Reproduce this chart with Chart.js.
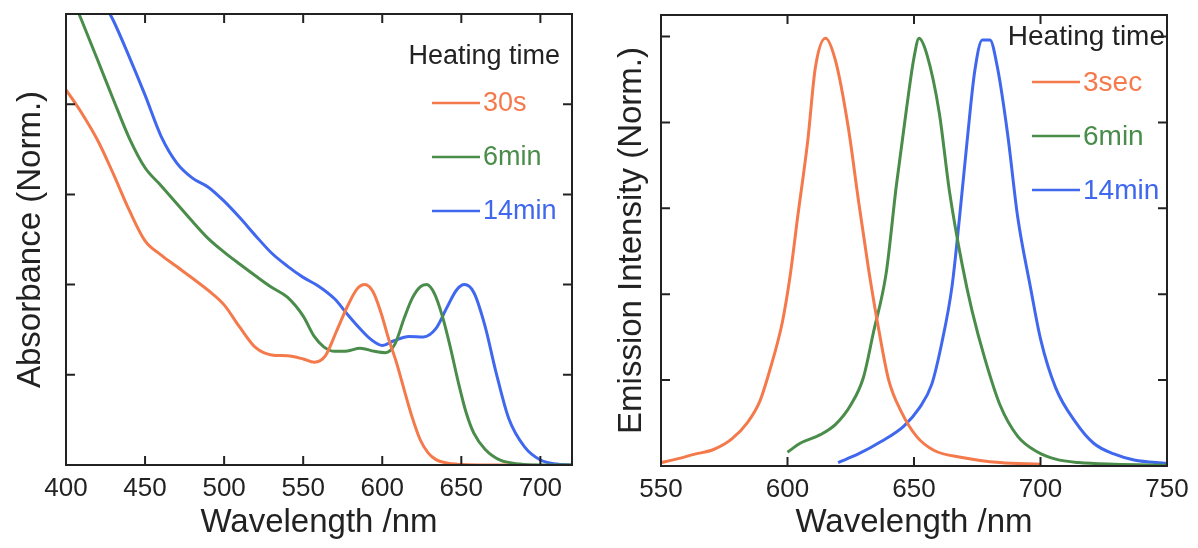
<!DOCTYPE html>
<html>
<head>
<meta charset="utf-8">
<script src="https://cdn.jsdelivr.net/npm/chart.js@4"></script>
<style>
  html, body { margin: 0; padding: 0; background: #fff; }
  .panel { position: absolute; top: 0; width: 599px; height: 548px; }
  #absPanel { left: 0; }
  #emPanel { left: 599px; }
</style>
</head>
<body>
<div class="panel" id="absPanel"><canvas id="absChart" width="599" height="548"></canvas></div>
<div class="panel" id="emPanel"><canvas id="emChart" width="599" height="548"></canvas></div>
<script>
// absorbance spectra (normalised)
const absWl30s = [400, 410, 420, 430, 440, 450, 460, 470, 480, 490, 500, 510, 520, 530, 540, 550, 557, 564, 571, 578, 584, 589, 594, 599, 604, 609, 614, 619, 624, 629, 634, 640, 650, 660, 680];
const abs30s = [0.832, 0.78, 0.72, 0.645, 0.565, 0.497, 0.466, 0.44, 0.414, 0.387, 0.355, 0.305, 0.26, 0.244, 0.242, 0.235, 0.228, 0.242, 0.296, 0.352, 0.39, 0.4, 0.385, 0.34, 0.28, 0.227, 0.165, 0.105, 0.056, 0.027, 0.012, 0.005, 0.001, 0, 0];

const absWl6min = [400, 410, 420, 430, 440, 450, 460, 470, 480, 490, 500, 510, 520, 530, 540, 550, 557, 563, 570, 578, 586, 595, 602, 608, 614, 619, 624, 628, 633, 638, 643, 648, 653, 658, 665, 675, 687, 700, 720];
const abs6min = [1.07, 0.985, 0.898, 0.81, 0.725, 0.659, 0.62, 0.58, 0.54, 0.502, 0.472, 0.445, 0.419, 0.394, 0.372, 0.33, 0.285, 0.262, 0.252, 0.253, 0.259, 0.252, 0.249, 0.268, 0.327, 0.37, 0.395, 0.4, 0.38, 0.33, 0.262, 0.185, 0.117, 0.07, 0.035, 0.01, 0.002, 0, 0];

const absWl14min = [400, 410, 420, 430, 440, 450, 460, 470, 480, 490, 500, 510, 520, 530, 540, 550, 560, 570, 578, 586, 593, 600, 607, 617, 626, 634, 641, 647, 652, 658, 665, 672, 680, 690, 700, 710, 720];
const abs14min = [1.2, 1.13, 1.05, 0.985, 0.905, 0.82, 0.73, 0.67, 0.636, 0.616, 0.585, 0.548, 0.508, 0.47, 0.441, 0.416, 0.396, 0.368, 0.334, 0.302, 0.278, 0.265, 0.275, 0.285, 0.284, 0.303, 0.35, 0.388, 0.4, 0.382, 0.308, 0.205, 0.103, 0.04, 0.011, 0.002, 0];

// emission spectra (normalised)
const emWl3sec = [550, 556, 563, 571, 578, 584, 589, 593, 598, 601, 604, 608, 611, 615, 619, 624, 628, 632, 636, 640, 645, 651, 658, 669, 684, 700];
const em3sec = [0.008, 0.016, 0.027, 0.039, 0.063, 0.1, 0.15, 0.223, 0.336, 0.441, 0.579, 0.757, 0.927, 0.996, 0.943, 0.789, 0.62, 0.46, 0.32, 0.2, 0.126, 0.069, 0.036, 0.02, 0.008, 0.004];

const emWl6min = [600, 605, 613, 619, 625, 630, 634, 639, 643, 647, 650, 652, 655, 660, 664, 669, 673, 678, 684, 691, 699, 706, 715, 729, 750];
const em6min = [0.032, 0.053, 0.073, 0.097, 0.142, 0.206, 0.312, 0.449, 0.652, 0.83, 0.951, 0.996, 0.96, 0.822, 0.64, 0.47, 0.36, 0.25, 0.142, 0.069, 0.032, 0.016, 0.008, 0.004, 0.002];

const emWl14min = [620, 628, 637, 646, 652, 657, 661, 665, 668, 671, 674, 677, 680, 683, 687, 691, 696, 700, 706, 714, 721, 729, 737, 750];
const em14min = [0.008, 0.028, 0.057, 0.093, 0.134, 0.19, 0.287, 0.417, 0.579, 0.757, 0.919, 0.992, 0.992, 0.927, 0.773, 0.579, 0.417, 0.296, 0.182, 0.101, 0.053, 0.028, 0.014, 0.006];

// axis ticks
const absXTicks = [400, 450, 500, 550, 600, 650, 700];
const absYTicks = [0.2, 0.4, 0.6, 0.8];
const emXTicks = [550, 600, 650, 700, 750];
const emYTicks = [0.2, 0.4, 0.6, 0.8, 1.0];

const absLabels = ["30s", "6min", "14min"];
const emLabels = ["3sec", "6min", "14min"];

const ORANGE = "#f4794b";
const GREEN = "#4a8c4a";
const BLUE = "#3f68ee";
const FONT = "'Liberation Sans', Arial, sans-serif";

function toPoints(xs, ys) {
  return xs.map((x, i) => ({ x: x, y: ys[i] }));
}

function series(label, xs, ys, color) {
  return {
    label: label,
    data: toPoints(xs, ys),
    borderColor: color,
    backgroundColor: color,
    borderWidth: 3,
    pointRadius: 0,
    cubicInterpolationMode: "monotone",
    fill: false,
  };
}

// frame box plus inward tick marks on all four sides
const frameTicks = {
  id: "frameTicks",
  afterDraw(chart) {
    const { ctx, chartArea: a, scales } = chart;
    const len = 9;
    ctx.save();
    ctx.strokeStyle = "#222";
    ctx.lineWidth = 2;
    ctx.beginPath();
    scales.x.ticks.forEach((t) => {
      const px = scales.x.getPixelForValue(t.value);
      if (px <= a.left + 1 || px >= a.right - 1) return;
      ctx.moveTo(px, a.bottom);
      ctx.lineTo(px, a.bottom - len);
      ctx.moveTo(px, a.top);
      ctx.lineTo(px, a.top + len);
    });
    chart.options.plugins.frameTicks.yTicks.forEach((v) => {
      const py = scales.y.getPixelForValue(v);
      ctx.moveTo(a.left, py);
      ctx.lineTo(a.left + len, py);
      ctx.moveTo(a.right, py);
      ctx.lineTo(a.right - len, py);
    });
    ctx.stroke();
    ctx.strokeRect(a.left, a.top, a.right - a.left, a.bottom - a.top);
    ctx.restore();
  },
};

// "Heating time" key in the upper right corner of the plot
const heatLegend = {
  id: "heatLegend",
  afterDraw(chart) {
    const o = chart.options.plugins.heatLegend;
    const { ctx, chartArea: a } = chart;
    ctx.save();
    ctx.font = o.size + "px " + FONT;
    ctx.textBaseline = "middle";
    ctx.fillStyle = "#222";
    ctx.textAlign = "right";
    ctx.fillText("Heating time", a.right - o.titleInset, a.top + o.titleY);
    ctx.textAlign = "left";
    chart.data.datasets.forEach((ds, i) => {
      const y = a.top + o.firstRow + i * o.gap;
      const x0 = a.right - o.lineFromRight;
      ctx.strokeStyle = ds.borderColor;
      ctx.lineWidth = 2.6;
      ctx.beginPath();
      ctx.moveTo(x0, y);
      ctx.lineTo(x0 + 48, y);
      ctx.stroke();
      ctx.fillStyle = ds.borderColor;
      ctx.fillText(ds.label, x0 + 51, y + 1);
    });
    ctx.restore();
  },
};

function makeChart(id, cfg) {
  return new Chart(document.getElementById(id).getContext("2d"), {
    type: "line",
    data: { datasets: cfg.datasets },
    options: {
      responsive: false,
      animation: false,
      layout: { padding: cfg.padding },
      plugins: {
        legend: { display: false },
        tooltip: { enabled: false },
        frameTicks: { yTicks: cfg.yTicks },
        heatLegend: cfg.legend,
      },
      scales: {
        x: {
          type: "linear",
          min: cfg.xMin,
          max: cfg.xMax,
          afterBuildTicks: (s) => {
            s.ticks = cfg.xTicks.map((v) => ({ value: v }));
          },
          afterFit: (s) => {
            s.height = cfg.xHeight;
          },
          grid: { display: false, drawTicks: false },
          border: { display: false },
          ticks: {
            color: "#222",
            padding: 8,
            maxRotation: 0,
            font: { family: FONT, size: 26 },
          },
          title: {
            display: true,
            text: "Wavelength /nm",
            color: "#222",
            padding: { bottom: 5 },
            font: { family: FONT, size: 33 },
          },
        },
        y: {
          min: 0,
          max: cfg.yMax,
          afterFit: (s) => {
            s.width = cfg.yWidth;
          },
          grid: { display: false, drawTicks: false },
          border: { display: false },
          ticks: { display: false },
          title: {
            display: true,
            text: cfg.yTitle,
            color: "#222",
            padding: { top: cfg.yTitlePad },
            font: { family: FONT, size: 33 },
          },
        },
      },
    },
    plugins: [frameTicks, heatLegend],
  });
}

makeChart("absChart", {
  datasets: [
    series(absLabels[0], absWl30s, abs30s, ORANGE),
    series(absLabels[1], absWl6min, abs6min, GREEN),
    series(absLabels[2], absWl14min, abs14min, BLUE),
  ],
  xMin: 400,
  xMax: 720,
  yMax: 1.0,
  xTicks: absXTicks,
  yTicks: absYTicks,
  yTitle: "Absorbance (Norm.)",
  yTitlePad: 11,
  padding: { left: 0, right: 27, top: 14, bottom: 0 },
  xHeight: 83,
  yWidth: 66,
  legend: { size: 27, titleInset: 12, titleY: 43, firstRow: 89, gap: 54, lineFromRight: 140 },
});

makeChart("emChart", {
  datasets: [
    series(emLabels[0], emWl3sec, em3sec, ORANGE),
    series(emLabels[1], emWl6min, em6min, GREEN),
    series(emLabels[2], emWl14min, em14min, BLUE),
  ],
  xMin: 550,
  xMax: 750,
  yMax: 1.05,
  xTicks: emXTicks,
  yTicks: emYTicks,
  yTitle: "Emission Intensity (Norm.)",
  yTitlePad: 13,
  padding: { left: 0, right: 31, top: 15, bottom: 0 },
  xHeight: 82,
  yWidth: 62,
  legend: { size: 28, titleInset: 2, titleY: 22, firstRow: 67, gap: 54, lineFromRight: 135 },
});
</script>
</body>
</html>
